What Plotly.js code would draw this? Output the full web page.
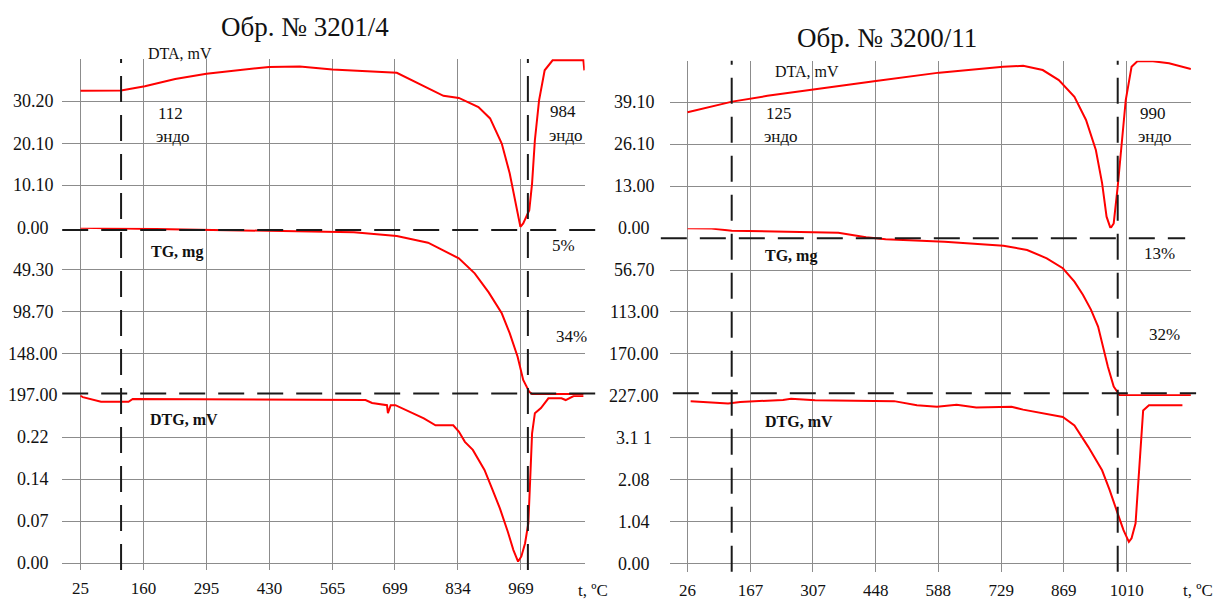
<!DOCTYPE html>
<html><head><meta charset="utf-8">
<script src="https://cdn.plot.ly/plotly-3.0.1.min.js"></script>
<style>html,body{margin:0;padding:0;background:#fff}#chart{width:1227px;height:601px}</style>
</head><body><div id="chart"></div>
<script>
// ---------- data (left sample: Обр. № 3201/4) ----------
const titleLeft = 'Обр. № 3201/4';
const xTicksLeft = [25, 160, 295, 430, 565, 699, 834, 969];
const dtaTicksLeft = [0, 10.1, 20.1, 30.2];
const dtaTextLeft = ['0.00', '10.10', '20.10', '30.20'];
const tgTicksLeft = [49.3, 98.7, 148, 197];
const tgTextLeft = ['49.30', '98.70', '148.00', '197.00'];
const dtgTicksLeft = [0, 0.0733, 0.1467, 0.22];
const dtgTextLeft = ['0.00', '0.07', '0.14', '0.22'];
const eventsLeft = [112, 984];
const lossLeft = ['5%', '34%'];
const tgLevelsLeft = [2.7, 195];

const dtaTLeft = [25, 112, 163, 228, 295, 429, 495, 565, 703, 770, 803, 836, 878, 903, 928, 945, 958, 968, 974, 987, 993, 999, 1008, 1020, 1037, 1103, 1105];
const dtaVLeft = [32.7, 32.8, 33.8, 35.5, 36.8, 38.4, 38.5, 37.8, 37.0, 33.2, 31.5, 31.0, 28.8, 26.1, 20.1, 13.0, 5.8, 0.2, 1.0, 4.2, 10.6, 20.9, 30.4, 37.6, 40.0, 40.0, 37.6];
const tgTLeft = [25, 112, 286, 436, 611, 703, 770, 836, 870, 900, 928, 945, 962, 974, 987, 993, 1050, 1103];
const tgVLeft = [0, 0.7, 2.7, 3.9, 5.4, 9.8, 17.6, 36, 53.6, 76, 100.6, 124, 151.6, 179, 193, 195.5, 195.5, 195.5];
const dtgTLeft = [25, 30, 69, 128, 137, 636, 650, 682, 684, 690, 700, 736, 761, 786, 824, 836, 849, 866, 891, 907, 924, 941, 953, 963, 970, 978, 985, 988, 993, 999, 1012, 1028, 1056, 1065, 1082, 1103];
const dtgVLeft = [0.293, 0.290, 0.282, 0.282, 0.287, 0.285, 0.280, 0.276, 0.262, 0.276, 0.276, 0.262, 0.253, 0.241, 0.241, 0.230, 0.212, 0.198, 0.163, 0.131, 0.096, 0.055, 0.023, 0.003, 0.012, 0.035, 0.070, 0.128, 0.227, 0.262, 0.271, 0.288, 0.288, 0.285, 0.292, 0.292];

// ---------- data (right sample: Обр. № 3200/11) ----------
const titleRight = 'Обр. № 3200/11';
const xTicksRight = [26, 167, 307, 448, 588, 729, 869, 1010];
const dtaTicksRight = [0, 13.0, 26.1, 39.1];
const dtaTextRight = ['0.00', '13.00', '26.10', '39.10'];
const tgTicksRight = [56.7, 113, 170, 227];
const tgTextRight = ['56.70', '113.00', '170.00', '227.00'];
const dtgTicksRight = [0, 1.04, 2.08, 3.11];
const dtgTextRight = ['0.00', '1.04', '2.08', '3.1 1'];
const eventsRight = [125, 990];
const lossRight = ['13%', '32%'];
const tgLevelsRight = [13.5, 223.3];

const dtaTRight = [26, 126, 205, 308, 448, 590, 733, 778, 822, 858, 893, 919, 941, 955, 965, 974, 981, 990, 999, 1008, 1021, 1034, 1069, 1105, 1154];
const dtaVRight = [36.0, 39.3, 41.1, 43.1, 45.7, 48.3, 50.1, 50.4, 49.1, 46.0, 40.8, 33.6, 24.3, 14.0, 3.6, 0.0, 1.5, 12.9, 26.4, 39.8, 50.1, 51.8, 51.8, 51.2, 49.4];
const tgTRight = [26, 80, 125, 293, 364, 426, 470, 602, 734, 787, 831, 867, 893, 912, 930, 946, 959, 968, 981, 994, 1050, 1154];
const tgVRight = [0, 0.4, 3.2, 4.6, 5.9, 12.2, 14.9, 18.1, 23.5, 29.4, 40.6, 54.1, 72.3, 90, 110, 133, 164.7, 187.3, 214.3, 225.6, 226, 226];
const dtgTRight = [33, 117, 144, 240, 258, 312, 489, 540, 585, 629, 673, 752, 778, 822, 867, 893, 911, 924, 955, 972, 990, 1003, 1015, 1021, 1030, 1034, 1038, 1043, 1047, 1060, 1135];
const dtgVRight = [4.02, 3.96, 4.0, 4.05, 4.08, 4.04, 4.02, 3.92, 3.88, 3.93, 3.86, 3.88, 3.81, 3.73, 3.63, 3.42, 3.13, 2.89, 2.31, 1.82, 1.24, 0.83, 0.54, 0.63, 1.0, 1.65, 2.56, 3.30, 3.79, 3.92, 3.92];

// ---------- layout helpers ----------
const W = 1227, H = 601;
const px = v => v / W;
const py = v => (H - v) / H;
const FONT = 'Liberation Serif, Times New Roman, serif';
const RED = '#ff0000';
const GRID = '#8c8c8c';

function line(x, y, xa, ya) {
  return {x, y, xaxis: xa, yaxis: ya, type: 'scatter', mode: 'lines',
    line: {color: RED, width: 2}, hoverinfo: 'skip', showlegend: false};
}
const data = [
  line(dtaTLeft, dtaVLeft, 'x', 'y'),
  line(tgTLeft, tgVLeft, 'x', 'y2'),
  line(dtgTLeft, dtgVLeft, 'x', 'y3'),
  line(dtaTRight, dtaVRight, 'x2', 'y4'),
  line(tgTRight, tgVRight, 'x2', 'y5'),
  line(dtgTRight, dtgVRight, 'x2', 'y6')
];

function xAxis(dom, range, ticks, anchor) {
  return {domain: dom, range, anchor, tickmode: 'array', tickvals: ticks,
    ticktext: ticks.map(String), showgrid: true, gridcolor: GRID, gridwidth: 1,
    zeroline: false, showline: false, ticks: 'outside', ticklen: 3,
    tickcolor: 'rgba(0,0,0,0)', tickfont: {family: FONT, size: 17, color: '#111'}, fixedrange: true};
}
function yAxis(dom, range, ticks, anchor) {
  return {domain: dom, range, anchor, tickmode: 'array', tickvals: ticks,
    showticklabels: false, ticks: '', showgrid: true, gridcolor: GRID, gridwidth: 1,
    zeroline: false, showline: false, fixedrange: true};
}

const layout = {
  width: W, height: H,
  margin: {l: 0, r: 0, t: 0, b: 0, autoexpand: false},
  paper_bgcolor: '#fff', plot_bgcolor: '#fff',
  showlegend: false,
  xaxis: xAxis([px(62.2), px(584.7)], [-14.2, 1105.8], xTicksLeft, 'y3'),
  yaxis: yAxis([py(227.7), py(59)], [0, 40.3], dtaTicksLeft, 'x'),
  yaxis2: yAxis([py(395.3), py(227.7)], [197, 0], tgTicksLeft, 'x'),
  yaxis3: yAxis([py(570), py(395.3)], [-0.0117, 0.2933], dtgTicksLeft, 'x'),
  xaxis2: xAxis([px(670.2), px(1190.9)], [-12.8, 1154], xTicksRight, 'y6'),
  yaxis4: yAxis([py(228.3), py(60.7)], [0, 52.0], dtaTicksRight, 'x2'),
  yaxis5: yAxis([py(396), py(228.3)], [227, 0], tgTicksRight, 'x2'),
  yaxis6: yAxis([py(571.7), py(396)], [-0.197, 4.147], dtgTicksRight, 'x2'),
  shapes: [], annotations: []
};

const DASH = {color: '#1a1a1a', width: 2, dash: '26px,13px'};
// vertical event lines
eventsLeft.forEach(t => layout.shapes.push({type: 'line', xref: 'x', yref: 'paper', x0: t, x1: t, y0: py(570), y1: py(59), line: DASH}));
eventsRight.forEach(t => layout.shapes.push({type: 'line', xref: 'x2', yref: 'paper', x0: t, x1: t, y0: py(571.7), y1: py(60.7), line: DASH}));
// horizontal TG level lines
layout.shapes.push({type: 'line', xref: 'x domain', yref: 'y2', x0: 0, x1: 1.04, y0: tgLevelsLeft[0], y1: tgLevelsLeft[0], line: DASH});
layout.shapes.push({type: 'line', xref: 'x domain', yref: 'y2', x0: 0, x1: 1.04, y0: tgLevelsLeft[1], y1: tgLevelsLeft[1], line: DASH});
layout.shapes.push({type: 'line', xref: 'x2 domain', yref: 'y5', x0: -0.018, x1: 0.989, y0: tgLevelsRight[0], y1: tgLevelsRight[0], line: DASH});
layout.shapes.push({type: 'line', xref: 'x2 domain', yref: 'y5', x0: 0.005, x1: 1.01, y0: tgLevelsRight[1], y1: tgLevelsRight[1], line: DASH});

function note(text, xPx, yPx, size, bold) {
  layout.annotations.push({text: bold ? '<b>' + text + '</b>' : text, xref: 'paper', yref: 'paper',
    x: px(xPx), y: py(yPx), xanchor: 'center', yanchor: 'middle', showarrow: false,
    font: {family: FONT, size, color: '#111'}});
}
function yLabels(vals, texts, yref, xPx) {
  vals.forEach((v, i) => layout.annotations.push({text: texts[i], xref: 'paper', yref,
    x: px(xPx), y: v, xanchor: 'center', yanchor: 'middle', showarrow: false,
    font: {family: FONT, size: 18, color: '#111'}}));
}
yLabels(dtaTicksLeft, dtaTextLeft, 'y', 33);
yLabels(tgTicksLeft, tgTextLeft, 'y2', 33);
yLabels(dtgTicksLeft, dtgTextLeft, 'y3', 33);
yLabels(dtaTicksRight, dtaTextRight, 'y4', 634);
yLabels(tgTicksRight, tgTextRight, 'y5', 634);
yLabels(dtgTicksRight, dtgTextRight, 'y6', 634);

note(titleLeft, 305, 27, 27);
note(titleRight, 887, 38, 27);
note('DTA, mV', 180, 53, 16);
note(String(eventsLeft[0]), 170, 113, 17);
note('эндо', 173, 136, 17);
note(String(eventsLeft[1]), 563, 112, 17);
note('эндо', 566, 135, 17);
note(lossLeft[0], 563, 246, 17);
note('TG, mg', 177, 252, 16, true);
note(lossLeft[1], 571, 337, 17);
note('DTG, mV', 184, 419, 16, true);
note('t, ºC', 593, 590, 17);

note('DTA, mV', 807, 71, 16);
note(String(eventsRight[0]), 779, 113, 17);
note('эндо', 781, 136, 17);
note(String(eventsRight[1]), 1153, 113, 17);
note('эндо', 1155, 136, 17);
note(lossRight[0], 1159, 254, 17);
note('TG, mg', 791, 256, 16, true);
note(lossRight[1], 1164, 335, 17);
note('DTG, mV', 799, 421, 16, true);
note('t, ºC', 1198, 590, 17);

Plotly.newPlot('chart', data, layout, {staticPlot: true, displayModeBar: false});
</script></body></html>
